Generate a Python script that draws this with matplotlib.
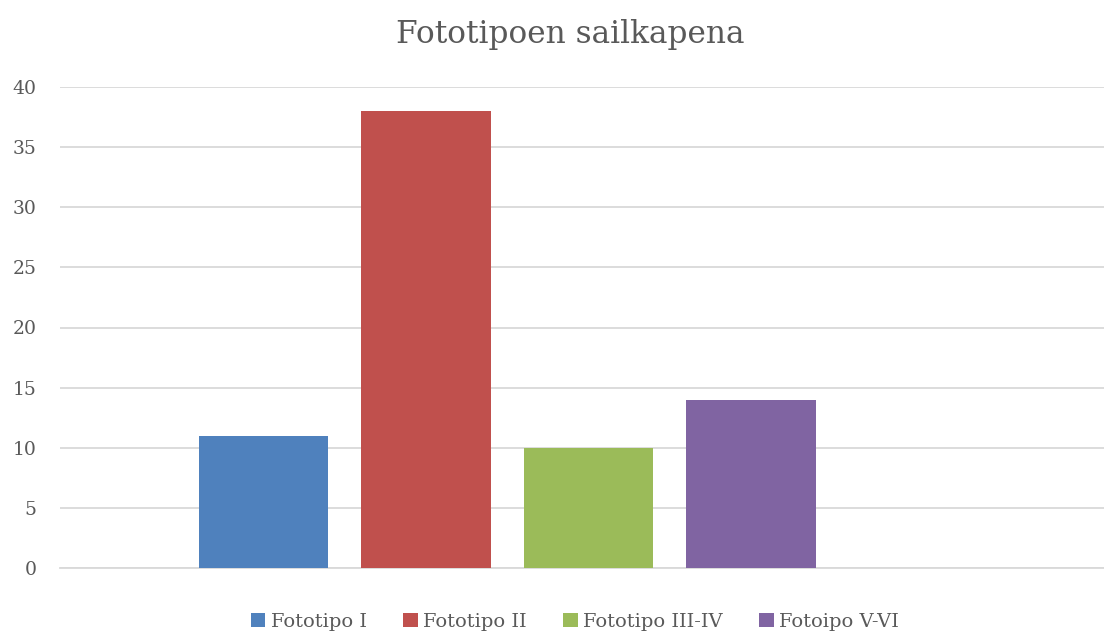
import matplotlib
matplotlib.use("Agg")
import matplotlib.pyplot as plt
from matplotlib.patches import Patch

series = ["Fototipo I", "Fototipo II", "Fototipo III-IV", "Fotoipo V-VI"]
values = [11, 38, 10, 14]
colors = ["#4F81BD", "#C0504D", "#9BBB59", "#8064A2"]
yticks = [0, 5, 10, 15, 20, 25, 30, 35, 40]
title = "Fototipoen sailkapena"

plt.rcParams['font.family'] = ['DejaVu Serif']
fig = plt.figure(figsize=(11.04, 6.35), dpi=100)
ax = fig.add_axes([60/1104, 1-568/635, 1-60/1104, (568-87)/635])

positions = list(range(len(series)))
for p, v, c in zip(positions, values, colors):
    ax.bar(p, v, width=0.794, color=c, zorder=3)

ax.set_xlim(-1.252, 5.172)
ax.set_ylim(0, 40)
ax.set_yticks(yticks)
ax.set_yticklabels([str(t) for t in yticks], fontsize=13.5, color="#595959")
ax.set_xticks([])
ax.grid(axis='y', color="#D9D9D9", linewidth=1.3, zorder=0)
for s in ["top", "right", "left"]:
    ax.spines[s].set_visible(False)
ax.spines["bottom"].set_color("#D9D9D9")
ax.spines["bottom"].set_linewidth(1.3)
ax.tick_params(axis='y', length=0, pad=17)

fig.text(570/1104, 1-35/635, title, ha='center', va='center', fontsize=22.5, color="#595959")

handles = [Patch(facecolor=c, edgecolor='none') for c in colors]
fig.legend(handles, series, loc='center', bbox_to_anchor=(575/1104, 1-622/635), ncol=4,
           frameon=False, fontsize=14, labelcolor="#595959", handlelength=0.75, handleheight=0.75,
           handletextpad=0.3, columnspacing=1.85)

fig.savefig("out.png", dpi=100)
